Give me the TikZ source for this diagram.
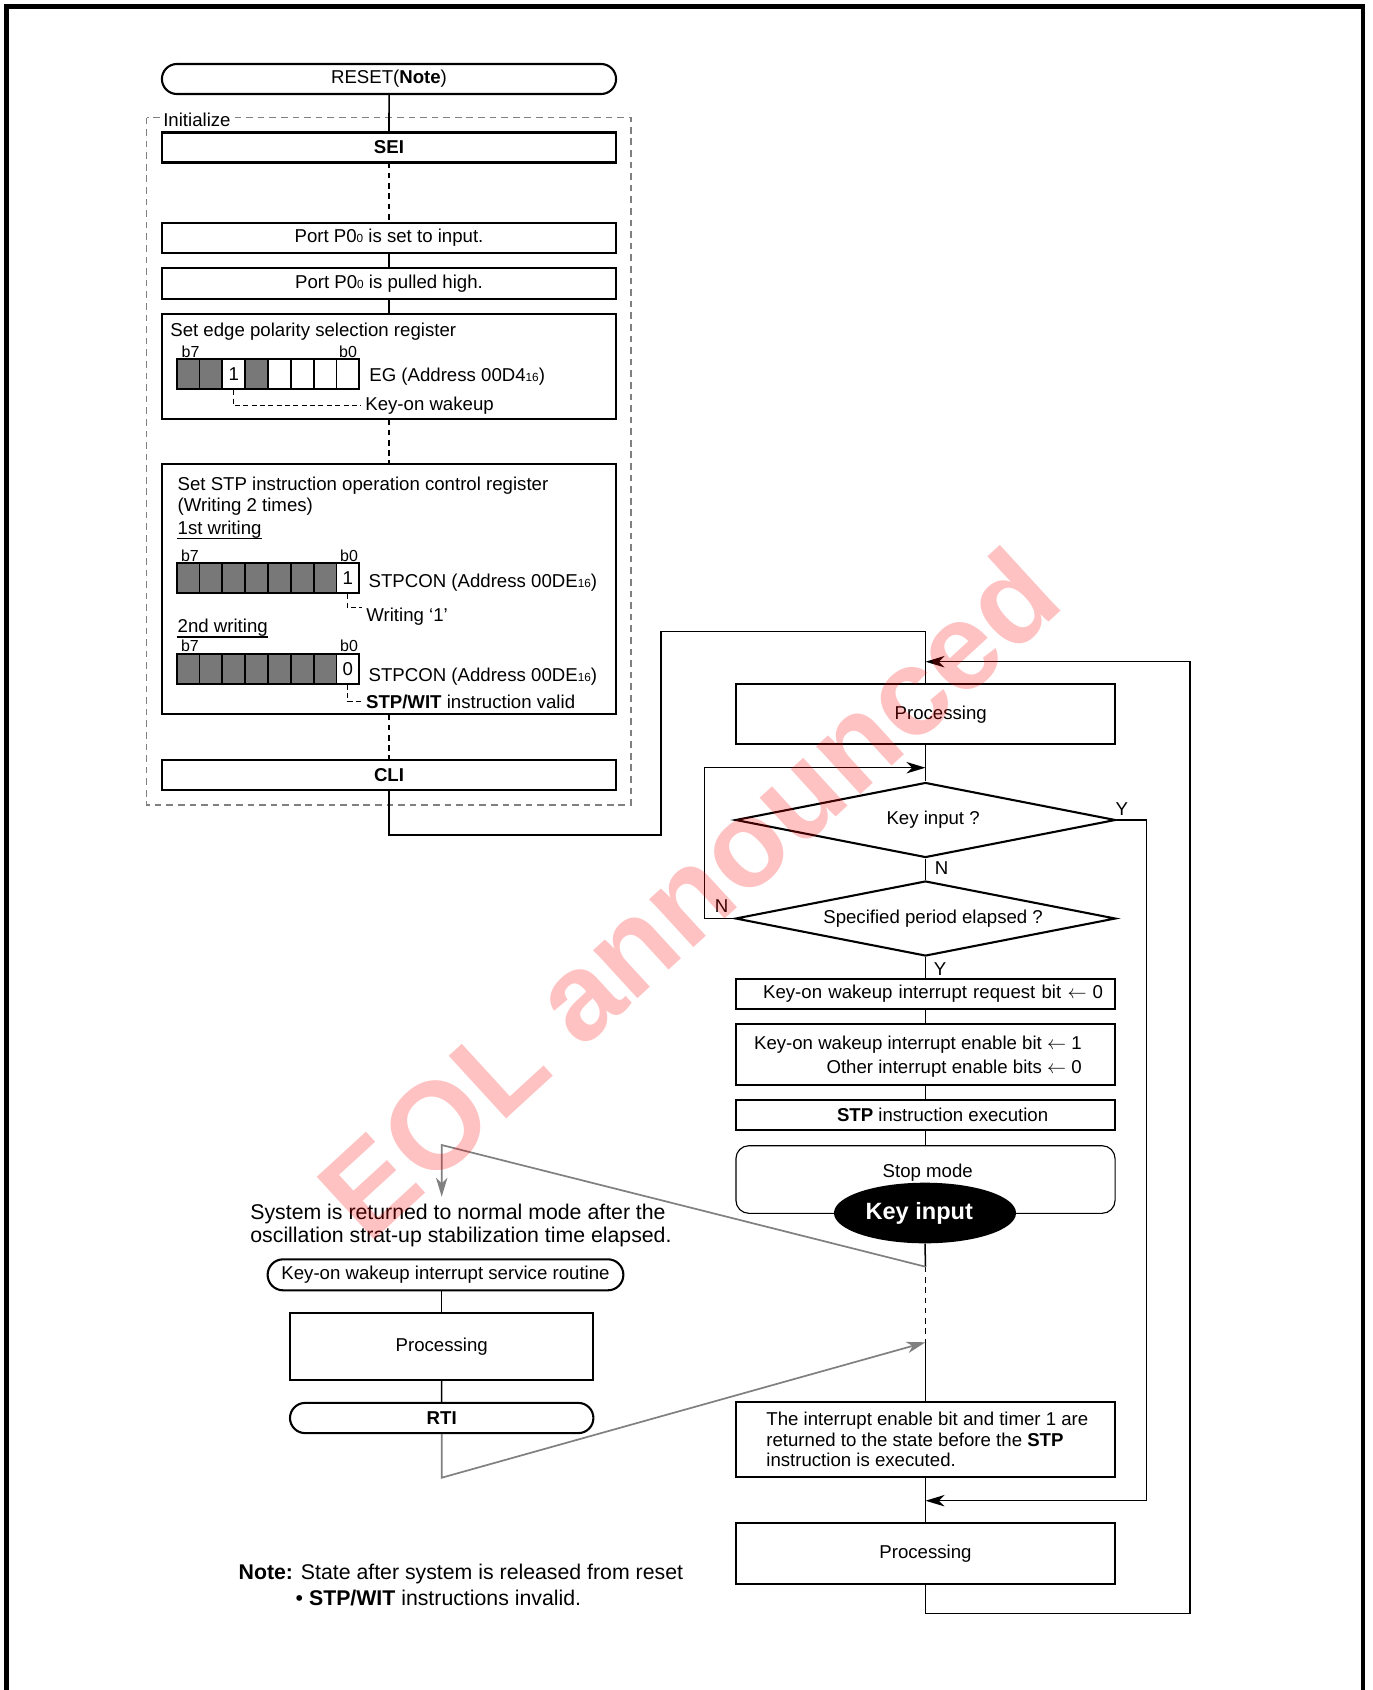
\documentclass[tikz,border=0pt]{standalone}
\usepackage{fontspec}
\setmainfont{Liberation Sans}
\usepackage{tikz}
\usetikzlibrary{arrows.meta,shapes.geometric,shapes.misc}

\newcommand{\subs}[1]{{\fontsize{6.2}{6}\selectfont #1}}

\begin{document}
\begin{tikzpicture}[
  x=0.0185cm, y=-0.0185cm,
  font=\fontsize{9.8}{11.6}\selectfont,
  >={Stealth[length=10pt,width=6pt,inset=3pt]},
  box/.style={draw, line width=1.1pt, inner sep=0pt, outer sep=0pt, minimum width=8.399cm, minimum height=0.555cm},
  rbox/.style={box, minimum width=7.0115cm},
  term/.style={draw, line width=1.1pt, rounded rectangle, inner sep=0pt, minimum height=0.555cm},
  dec/.style={draw, line width=1.1pt, diamond, aspect=5, inner sep=0pt, minimum width=7.03cm, minimum height=1.3875cm},
  cell/.style={draw, line width=1pt, inner sep=0pt, minimum width=0.4224cm, minimum height=0.555cm},
  gcell/.style={cell, fill=black!53},
  conn/.style={line width=0.8pt},
  arr/.style={conn, ->},
  dconn/.style={conn, dash pattern=on 3pt off 2.4pt},
  lead/.style={line width=0.5pt, dash pattern=on 2.6pt off 1.8pt},
  uline/.style={line width=0.6pt},
  garr/.style={line width=0.9pt, draw=black!50, ->},
  bits/.style={font=\fontsize{8.4}{9}\selectfont, inner sep=0pt, anchor=base},
  txt/.style={inner sep=0pt, anchor=base west},
  remark/.style={font=\fontsize{11.2}{12.3}\selectfont, inner sep=0pt, align=left, anchor=west}
]
\useasboundingbox (0,0) rectangle (1372,1690);
% page frame
\draw[line width=2.6pt] (6.7,1690) -- (6.7,6.2) -- (1363,6.2) -- (1363,1690);

% initialize block
\draw[line width=0.6pt, draw=black!50, dash pattern=on 3.5pt off 2.6pt] (146.7,117.5) rectangle (631,805);
\node[fill=white, inner sep=1pt, anchor=base west] (init) at (161,126) {Initialize};

\node[term, minimum width=8.399cm] (reset) at (389,79) {RESET(\textbf{Note})};
\node[box] (sei) at (389,147.5) {\textbf{SEI}};
\node[box, minimum height=0.566cm] (pin) at (389,238) {Port P0\subs{0} is set to input.};
\node[box, minimum height=0.5735cm] (pup) at (389,283.5) {Port P0\subs{0} is pulled high.};
\node[box, minimum height=1.948cm] (egbox) at (389,366.7) {};
\node[box, minimum height=4.625cm] (stpbox) at (389,589.3) {};
\node[box] (cli) at (389,775) {\textbf{CLI}};

\draw[conn] (reset) -- (sei);
\draw[dconn] (sei) -- (pin);
\draw[conn] (pin) -- (pup);
\draw[conn] (pup) -- (egbox);
\draw[dconn] (egbox) -- (stpbox);
\draw[dconn] (stpbox) -- (cli);

% edge polarity register
\node[txt] (egt) at (170,336) {Set edge polarity selection register};
\node[bits] (egb7) at (190.5,357) {b7};
\node[bits] (egb0) at (348,357) {b0};
\foreach \i in {1,2,4}
  \node[gcell] (eg\i) at ({176.7+(\i-0.5)*22.83},374.3) {};
\foreach \i in {5,...,8}
  \node[cell] (eg\i) at ({176.7+(\i-0.5)*22.83},374.3) {};
\node[cell] (eg3) at ({176.7+2.5*22.83},374.3) {1};
\node[txt] (egaddr) at (369,381.7) {EG (Address 00D4\subs{16})};
\node[txt] (kow) at (365,410.7) {Key-on wakeup};
\draw[lead] (eg3.south) |- ([xshift=-2pt]kow.west);

% STP control register
\node[txt] (st1) at (177.3,490) {Set STP instruction operation control register};
\node[txt] (st2) at (177.3,511) {(Writing 2 times)};
\node[txt] (w1) at (177.3,534.3) {1st writing};
\draw[uline] (w1.south west) -- (w1.south east);
\node[bits] (wab7) at (190,561) {b7};
\node[bits] (wab0) at (349,561) {b0};
\foreach \i in {1,...,7}
  \node[gcell] (wa\i) at ({176.7+(\i-0.5)*22.83},578.3) {};
\node[cell] (wa8) at ({176.7+7.5*22.83},578.3) {1};
\node[txt] (waaddr) at (368.3,587.7) {STPCON (Address 00DE\subs{16})};
\node[txt] (wr1) at (366,621.7) {Writing ‘1’};
\draw[lead] (wa8.south) |- ([xshift=-2pt]wr1.north west);

\node[txt] (w2) at (177.3,632.7) {2nd writing};
\draw[uline] (w2.south west) -- (w2.south east);
\node[bits] (wbb7) at (190,651) {b7};
\node[bits] (wbb0) at (349,651) {b0};
\foreach \i in {1,...,7}
  \node[gcell] (wb\i) at ({176.7+(\i-0.5)*22.83},668.7) {};
\node[cell] (wb8) at ({176.7+7.5*22.83},668.7) {0};
\node[txt] (wbaddr) at (368.3,681.7) {STPCON (Address 00DE\subs{16})};
\node[txt] (valid) at (365.7,708.3) {\textbf{STP/WIT} instruction valid};
\draw[lead] (wb8.south) |- ([xshift=-2pt]valid.west);

% main loop
\node[rbox, minimum height=1.11cm] (proc1) at (925.5,714.3) {\hspace*{16pt}Processing};
\node[dec] (keyq) at (925.5,820) {\hspace*{8pt}Key input ?};
\node[dec] (period) at (925.5,918.5) {\hspace*{8pt}Specified period elapsed ?};
\node[rbox, text width=6.5675cm, align=right] (req) at (925.5,994)
  {Key-on wakeup interrupt request bit $\leftarrow$ 0};
\node[rbox, minimum height=1.1285cm] (ena) at (925.5,1054.5) {};
\node[inner sep=0pt, anchor=east, align=right, font=\fontsize{9.8}{12.3}\selectfont] (enat) at (1082,1056.7)
  {Key-on wakeup interrupt enable bit $\leftarrow$ 1\\Other interrupt enable bits $\leftarrow$ 0};
\node[rbox] (stpx) at (925.5,1115) {\hspace*{18pt}\textbf{STP} instruction execution};
\node[draw, line width=0.6pt, rounded corners=0.24cm, inner sep=0pt, minimum width=7.0115cm, minimum height=1.2506cm] (stop) at (925.5,1179.5) {};
\node[inner sep=0pt, anchor=base] (stoptxt) at (927.7,1177.3) {Stop mode};
\node[ellipse, fill=black, inner sep=0pt, minimum width=3.367cm, minimum height=1.121cm, text=white, font=\fontsize{12.4}{14}\selectfont\bfseries] (key) at (925,1213) {Key input\hspace*{6pt}};
\node[rbox, minimum height=1.376cm] (ret) at (925.5,1439.5) {};
\node[inner sep=0pt, anchor=west, align=left, font=\fontsize{9.8}{10.8}\selectfont] (rett) at (766,1439.5)
  {The interrupt enable bit and timer 1 are\\returned to the state before the \textbf{STP}\\instruction is executed.};
\node[rbox, minimum height=1.123cm] (proc2) at (925.5,1553.7) {Processing};

\coordinate (c1) at (661,835);
\coordinate (c2) at (661,631.7);
\coordinate (mtop) at (925.5,661.7);
\coordinate (mleft) at (925.5,767.7);
\coordinate (mret) at (925.5,1500.7);
\coordinate (lp) at (1190,1613.5);
\coordinate (g1) at (925.5,1266.7);
\coordinate (g2) at (925.5,1342.3);

\draw[conn] (cli.south) |- (c1) -- (c2) -| (proc1.north);
\draw[conn] (proc1) -- (keyq);
\draw[conn] (keyq) -- (period);
\draw[conn] (period) -- (req);
\draw[conn] (req) -- (ena);
\draw[conn] (ena) -- (stpx);
\draw[conn] (stpx) -- (stop);
\draw[conn] (key.south) -- (g1);
\draw[dconn] (g1) -- (g2);
\draw[conn] (g2) -- (ret.north);
\draw[conn] (ret) -- (proc2);
\draw[arr] (period.west) -- ++(-30,0) |- (mleft);
\draw[arr] (keyq.east) -- ++(30,0) |- (mret);
\draw[arr] (proc2.south) |- (lp) |- (mtop);

\node[inner sep=0pt] (ly1) at (1121.7,809.3) {Y};
\node[inner sep=0pt] (ln1) at (941.7,868.3) {N};
\node[inner sep=0pt] (ln2) at (721.7,906) {N};
\node[inner sep=0pt] (ly2) at (940,969.3) {Y};

% interrupt routine
\node[term, minimum width=6.579cm, minimum height=0.5735cm] (isr) at (445.5,1274.8) {Key-on wakeup interrupt service routine};
\node[box, minimum width=5.611cm, minimum height=1.2506cm] (proc3) at (441.7,1346.5) {Processing};
\node[term, minimum width=5.611cm, minimum height=0.5587cm] (rti) at (441.7,1418) {\textbf{RTI}};
\draw[conn] (proc3.north) -- (proc3.north |- isr.south);
\draw[conn] (proc3) -- (rti);

\coordinate (gk) at (441.7,1145);
\coordinate (gtip) at (441.7,1196.7);
\coordinate (gr) at (441.7,1477.7);
\draw[garr] (g1) -- (gk) -- (gtip);
\draw[garr] (rti.south) -- (gr) -- (g2);

\node[remark] (sysret) at (250,1225.5)
  {System is returned to normal mode after the\\oscillation strat-up stabilization time elapsed.};
\node[remark, font=\fontsize{11.2}{14}\selectfont] (note) at (238.3,1585)
  {\textbf{Note:} State after system is released from reset\\\hspace*{30pt}• \textbf{STP/WIT} instructions invalid.};

% watermark
\node[rotate=42.5, text=red, text opacity=0.24, inner sep=0pt, font=\fontsize{65}{65}\selectfont\bfseries] (wm) at (688,893) {EOL announced};
\end{tikzpicture}
\end{document}
